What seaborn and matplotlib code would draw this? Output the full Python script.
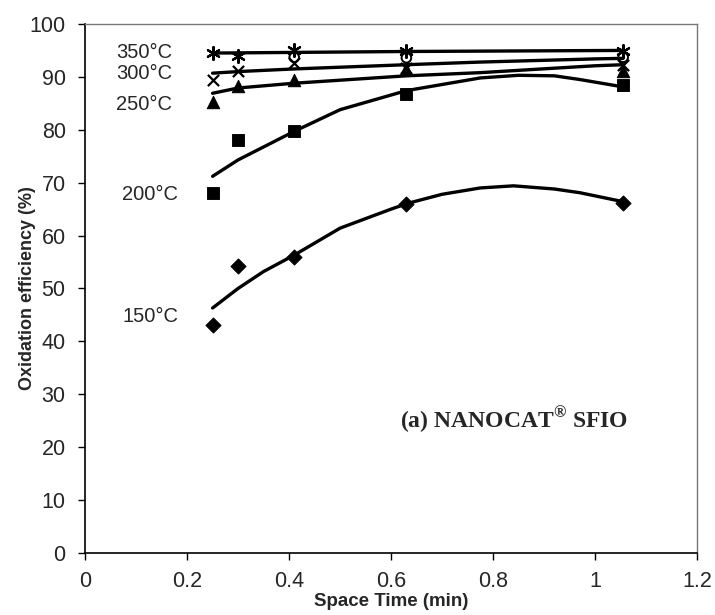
import matplotlib
matplotlib.use("Agg")
import matplotlib.pyplot as plt
import seaborn as sns

# -----------------------------
# Data
# -----------------------------
space_time = [0.25, 0.30, 0.41, 0.63, 1.055]

eff_150 = [43.0, 54.3, 56.0, 65.9, 66.2]
eff_200 = [68.1, 78.0, 79.8, 86.8, 88.4]
eff_250 = [85.2, 88.3, 89.5, 91.4, 91.2]
eff_300 = [89.5, 91.2, 92.6, 91.7, 92.3]
eff_350 = [94.6, 93.9, 95.1, 94.8, 94.8]

circle_x = [0.41, 0.63, 1.055]
circle_y = [93.7, 93.6, 93.7]

# trend lines
trend_150_x = [0.25, 0.30, 0.35, 0.41, 0.50, 0.60, 0.633, 0.70, 0.775, 0.84, 0.92, 0.97, 1.055]
trend_150_y = [46.3, 50.0, 53.2, 56.3, 61.4, 65.0, 66.1, 67.8, 69.0, 69.4, 68.8, 68.1, 66.4]

trend_200_x = [0.25, 0.30, 0.41, 0.50, 0.63, 0.775, 0.85, 0.92, 0.97, 1.055]
trend_200_y = [71.2, 74.3, 79.7, 83.8, 87.4, 89.8, 90.3, 90.2, 89.5, 88.1]

trend_250_x = [0.25, 0.30, 0.41, 0.63, 0.775, 0.93, 1.0, 1.055]
trend_250_y = [86.9, 87.9, 88.8, 90.2, 90.8, 91.7, 92.1, 92.3]

trend_300_x = [0.25, 0.30, 0.41, 0.63, 0.775, 1.0, 1.055]
trend_300_y = [90.7, 91.0, 91.5, 92.3, 92.8, 93.4, 93.5]

trend_350_x = [0.25, 0.63, 1.055]
trend_350_y = [94.5, 94.8, 95.0]

labels = ["350°C", "300°C", "250°C", "200°C", "150°C"]
label_x = [0.171, 0.171, 0.171, 0.183, 0.183]
label_y = [94.6, 90.7, 84.7, 67.7, 44.7]

x_ticks = [0, 0.2, 0.4, 0.6, 0.8, 1.0, 1.2]
x_tick_labels = ["0", "0.2", "0.4", "0.6", "0.8", "1", "1.2"]
y_ticks = list(range(0, 101, 10))

# -----------------------------
# Style
# -----------------------------
sns.set_style("white")
plt.rcParams["font.family"] = ["Liberation Sans", "DejaVu Sans"]
plt.rcParams["mathtext.fontset"] = "custom"
plt.rcParams["mathtext.rm"] = "Liberation Serif:bold"
plt.rcParams["mathtext.bf"] = "Liberation Serif:bold"

fig, ax = plt.subplots(figsize=(7.15, 6.15), dpi=100)
fig.subplots_adjust(left=0.119, right=0.975, top=0.961, bottom=0.101)

# -----------------------------
# Trend lines
# -----------------------------
for tx, ty in [
    (trend_150_x, trend_150_y),
    (trend_200_x, trend_200_y),
    (trend_250_x, trend_250_y),
    (trend_300_x, trend_300_y),
    (trend_350_x, trend_350_y),
]:
    sns.lineplot(x=tx, y=ty, ax=ax, color="black", linewidth=2.4,
                 sort=False, estimator=None)

# -----------------------------
# Measured points
# -----------------------------
sns.scatterplot(x=space_time, y=eff_150, ax=ax, marker="D", s=60,
                color="black", edgecolor="black", zorder=3)
sns.scatterplot(x=space_time, y=eff_200, ax=ax, marker="s", s=65,
                color="black", edgecolor="black", zorder=3)
sns.scatterplot(x=space_time, y=eff_250, ax=ax, marker="^", s=80,
                color="black", edgecolor="black", zorder=3)
sns.scatterplot(x=space_time, y=eff_300, ax=ax, marker="x", s=65,
                color="black", linewidth=1.6, zorder=3)
sns.scatterplot(x=circle_x, y=circle_y, ax=ax, marker="o", s=48,
                facecolor="none", edgecolor="black", linewidth=1.4, zorder=3)
sns.scatterplot(x=space_time, y=eff_350, ax=ax, marker=(6, 2, 0), s=85,
                color="black", linewidth=1.6, zorder=3)

# -----------------------------
# Text labels
# -----------------------------
for lab, lx, ly in zip(labels, label_x, label_y):
    ax.text(lx, ly, lab, ha="right", va="center", fontsize=14.5)

ax.text(0.618, 23.6, r"(a) NANOCAT$^{\mathrm{®}}$ SFIO", ha="left",
        va="baseline", fontsize=17, fontweight="bold",
        family=["Liberation Serif", "DejaVu Serif"])

# -----------------------------
# Axes
# -----------------------------
ax.set_xlim(0, 1.2)
ax.set_ylim(0, 100)
ax.set_xticks(x_ticks)
ax.set_xticklabels(x_tick_labels)
ax.set_yticks(y_ticks)
ax.tick_params(axis="both", labelsize=15.5, length=5, width=1,
               direction="out", color="black", bottom=True, left=True)
ax.tick_params(axis="x", pad=8)
ax.tick_params(axis="y", pad=9)

ax.set_xlabel("Space Time (min)", fontsize=13.5, fontweight="bold", labelpad=1)
ax.set_ylabel("Oxidation efficiency (%)", fontsize=13, fontweight="bold",
              labelpad=-5)

for side in ["left", "bottom"]:
    ax.spines[side].set_color("black")
    ax.spines[side].set_linewidth(1.2)
for side in ["top", "right"]:
    ax.spines[side].set_color("#777777")
    ax.spines[side].set_linewidth(1.0)
    ax.spines[side].set_linestyle((0, (1, 1)))

plt.savefig("out.png", dpi=100)
plt.close()
